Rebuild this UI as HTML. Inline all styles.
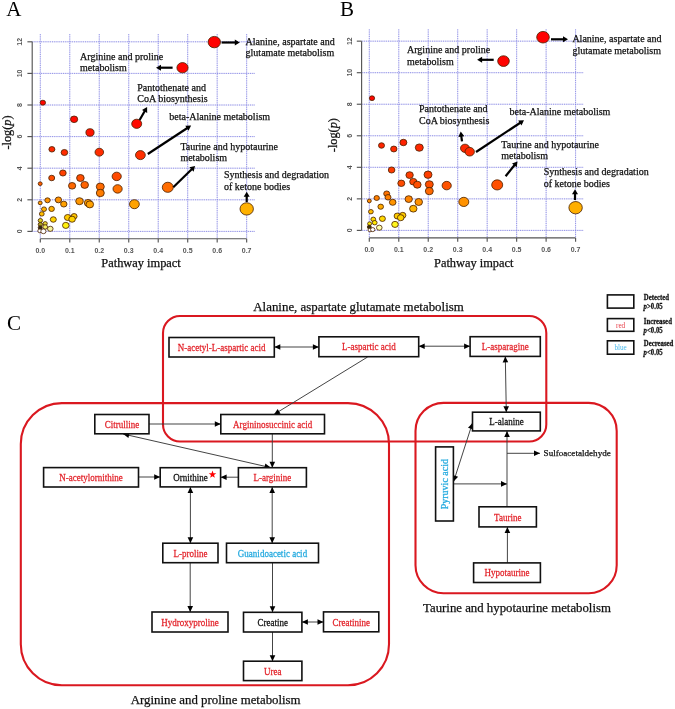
<!DOCTYPE html>
<html><head><meta charset="utf-8"><title>Pathway analysis figure</title>
<style>
html,body{margin:0;padding:0;background:#fff;width:675px;height:709px;overflow:hidden;}
svg{display:block;will-change:transform;font-family:"Liberation Serif",serif;}
</style></head><body>
<svg width="675" height="709" viewBox="0 0 675 709">
<rect width="675" height="709" fill="#fff"/>
<line x1="40.3" y1="34.1" x2="40.3" y2="238.7" stroke="#e4e4f8" stroke-width="1"/>
<line x1="69.78" y1="34.1" x2="69.78" y2="238.7" stroke="#e4e4f8" stroke-width="1"/>
<line x1="99.26" y1="34.1" x2="99.26" y2="238.7" stroke="#e4e4f8" stroke-width="1"/>
<line x1="128.74" y1="34.1" x2="128.74" y2="238.7" stroke="#e4e4f8" stroke-width="1"/>
<line x1="158.22" y1="34.1" x2="158.22" y2="238.7" stroke="#e4e4f8" stroke-width="1"/>
<line x1="187.7" y1="34.1" x2="187.7" y2="238.7" stroke="#e4e4f8" stroke-width="1"/>
<line x1="217.18" y1="34.1" x2="217.18" y2="238.7" stroke="#e4e4f8" stroke-width="1"/>
<line x1="246.66" y1="34.1" x2="246.66" y2="238.7" stroke="#e4e4f8" stroke-width="1"/>
<line x1="32.2" y1="231.4" x2="255" y2="231.4" stroke="#e4e4f8" stroke-width="1"/>
<line x1="32.2" y1="199.8" x2="255" y2="199.8" stroke="#e4e4f8" stroke-width="1"/>
<line x1="32.2" y1="168.2" x2="255" y2="168.2" stroke="#e4e4f8" stroke-width="1"/>
<line x1="32.2" y1="136.6" x2="255" y2="136.6" stroke="#e4e4f8" stroke-width="1"/>
<line x1="32.2" y1="105" x2="255" y2="105" stroke="#e4e4f8" stroke-width="1"/>
<line x1="32.2" y1="73.4" x2="255" y2="73.4" stroke="#e4e4f8" stroke-width="1"/>
<line x1="32.2" y1="41.8" x2="255" y2="41.8" stroke="#e4e4f8" stroke-width="1"/>
<line x1="40.3" y1="34.1" x2="40.3" y2="238.7" stroke="#7c7ce4" stroke-width="1" stroke-dasharray="1.1 1.1" stroke-opacity="0.8"/>
<line x1="69.78" y1="34.1" x2="69.78" y2="238.7" stroke="#7c7ce4" stroke-width="1" stroke-dasharray="1.1 1.1" stroke-opacity="0.8"/>
<line x1="99.26" y1="34.1" x2="99.26" y2="238.7" stroke="#7c7ce4" stroke-width="1" stroke-dasharray="1.1 1.1" stroke-opacity="0.8"/>
<line x1="128.74" y1="34.1" x2="128.74" y2="238.7" stroke="#7c7ce4" stroke-width="1" stroke-dasharray="1.1 1.1" stroke-opacity="0.8"/>
<line x1="158.22" y1="34.1" x2="158.22" y2="238.7" stroke="#7c7ce4" stroke-width="1" stroke-dasharray="1.1 1.1" stroke-opacity="0.8"/>
<line x1="187.7" y1="34.1" x2="187.7" y2="238.7" stroke="#7c7ce4" stroke-width="1" stroke-dasharray="1.1 1.1" stroke-opacity="0.8"/>
<line x1="217.18" y1="34.1" x2="217.18" y2="238.7" stroke="#7c7ce4" stroke-width="1" stroke-dasharray="1.1 1.1" stroke-opacity="0.8"/>
<line x1="246.66" y1="34.1" x2="246.66" y2="238.7" stroke="#7c7ce4" stroke-width="1" stroke-dasharray="1.1 1.1" stroke-opacity="0.8"/>
<line x1="32.2" y1="231.4" x2="255" y2="231.4" stroke="#7c7ce4" stroke-width="1" stroke-dasharray="1.1 1.1" stroke-opacity="0.8"/>
<line x1="32.2" y1="199.8" x2="255" y2="199.8" stroke="#7c7ce4" stroke-width="1" stroke-dasharray="1.1 1.1" stroke-opacity="0.8"/>
<line x1="32.2" y1="168.2" x2="255" y2="168.2" stroke="#7c7ce4" stroke-width="1" stroke-dasharray="1.1 1.1" stroke-opacity="0.8"/>
<line x1="32.2" y1="136.6" x2="255" y2="136.6" stroke="#7c7ce4" stroke-width="1" stroke-dasharray="1.1 1.1" stroke-opacity="0.8"/>
<line x1="32.2" y1="105" x2="255" y2="105" stroke="#7c7ce4" stroke-width="1" stroke-dasharray="1.1 1.1" stroke-opacity="0.8"/>
<line x1="32.2" y1="73.4" x2="255" y2="73.4" stroke="#7c7ce4" stroke-width="1" stroke-dasharray="1.1 1.1" stroke-opacity="0.8"/>
<line x1="32.2" y1="41.8" x2="255" y2="41.8" stroke="#7c7ce4" stroke-width="1" stroke-dasharray="1.1 1.1" stroke-opacity="0.8"/>
<line x1="32.2" y1="231.4" x2="32.2" y2="41.8" stroke="#555" stroke-width="1.15"/>
<line x1="27.4" y1="231.4" x2="32.2" y2="231.4" stroke="#555" stroke-width="1.15"/>
<text x="22.3" y="231.4" transform="rotate(-90 22.3 231.4)" text-anchor="middle" font-family='"Liberation Sans", sans-serif' font-size="7" font-weight="bold" fill="#555">0</text>
<line x1="27.4" y1="199.8" x2="32.2" y2="199.8" stroke="#555" stroke-width="1.15"/>
<text x="22.3" y="199.8" transform="rotate(-90 22.3 199.8)" text-anchor="middle" font-family='"Liberation Sans", sans-serif' font-size="7" font-weight="bold" fill="#555">2</text>
<line x1="27.4" y1="168.2" x2="32.2" y2="168.2" stroke="#555" stroke-width="1.15"/>
<text x="22.3" y="168.2" transform="rotate(-90 22.3 168.2)" text-anchor="middle" font-family='"Liberation Sans", sans-serif' font-size="7" font-weight="bold" fill="#555">4</text>
<line x1="27.4" y1="136.6" x2="32.2" y2="136.6" stroke="#555" stroke-width="1.15"/>
<text x="22.3" y="136.6" transform="rotate(-90 22.3 136.6)" text-anchor="middle" font-family='"Liberation Sans", sans-serif' font-size="7" font-weight="bold" fill="#555">6</text>
<line x1="27.4" y1="105" x2="32.2" y2="105" stroke="#555" stroke-width="1.15"/>
<text x="22.3" y="105" transform="rotate(-90 22.3 105)" text-anchor="middle" font-family='"Liberation Sans", sans-serif' font-size="7" font-weight="bold" fill="#555">8</text>
<line x1="27.4" y1="73.4" x2="32.2" y2="73.4" stroke="#555" stroke-width="1.15"/>
<text x="22.3" y="73.4" transform="rotate(-90 22.3 73.4)" text-anchor="middle" font-family='"Liberation Sans", sans-serif' font-size="7" font-weight="bold" fill="#555">10</text>
<line x1="27.4" y1="41.8" x2="32.2" y2="41.8" stroke="#555" stroke-width="1.15"/>
<text x="22.3" y="41.8" transform="rotate(-90 22.3 41.8)" text-anchor="middle" font-family='"Liberation Sans", sans-serif' font-size="7" font-weight="bold" fill="#555">12</text>
<line x1="40.3" y1="238.7" x2="246.66" y2="238.7" stroke="#555" stroke-width="1.15"/>
<line x1="40.3" y1="238.7" x2="40.3" y2="242.5" stroke="#555" stroke-width="1.15"/>
<text x="40.3" y="253.1" text-anchor="middle" font-family='"Liberation Sans", sans-serif' font-size="7" font-weight="bold" fill="#555">0.0</text>
<line x1="69.78" y1="238.7" x2="69.78" y2="242.5" stroke="#555" stroke-width="1.15"/>
<text x="69.78" y="253.1" text-anchor="middle" font-family='"Liberation Sans", sans-serif' font-size="7" font-weight="bold" fill="#555">0.1</text>
<line x1="99.26" y1="238.7" x2="99.26" y2="242.5" stroke="#555" stroke-width="1.15"/>
<text x="99.26" y="253.1" text-anchor="middle" font-family='"Liberation Sans", sans-serif' font-size="7" font-weight="bold" fill="#555">0.2</text>
<line x1="128.74" y1="238.7" x2="128.74" y2="242.5" stroke="#555" stroke-width="1.15"/>
<text x="128.74" y="253.1" text-anchor="middle" font-family='"Liberation Sans", sans-serif' font-size="7" font-weight="bold" fill="#555">0.3</text>
<line x1="158.22" y1="238.7" x2="158.22" y2="242.5" stroke="#555" stroke-width="1.15"/>
<text x="158.22" y="253.1" text-anchor="middle" font-family='"Liberation Sans", sans-serif' font-size="7" font-weight="bold" fill="#555">0.4</text>
<line x1="187.7" y1="238.7" x2="187.7" y2="242.5" stroke="#555" stroke-width="1.15"/>
<text x="187.7" y="253.1" text-anchor="middle" font-family='"Liberation Sans", sans-serif' font-size="7" font-weight="bold" fill="#555">0.5</text>
<line x1="217.18" y1="238.7" x2="217.18" y2="242.5" stroke="#555" stroke-width="1.15"/>
<text x="217.18" y="253.1" text-anchor="middle" font-family='"Liberation Sans", sans-serif' font-size="7" font-weight="bold" fill="#555">0.6</text>
<line x1="246.66" y1="238.7" x2="246.66" y2="242.5" stroke="#555" stroke-width="1.15"/>
<text x="246.66" y="253.1" text-anchor="middle" font-family='"Liberation Sans", sans-serif' font-size="7" font-weight="bold" fill="#555">0.7</text>
<ellipse cx="214.3" cy="42.1" rx="6.2" ry="5.7" fill="#ff0100" stroke="#4a2200" stroke-width="0.9" stroke-opacity="0.9"/>
<ellipse cx="182.5" cy="67.7" rx="5.6" ry="5.15" fill="#ff0400" stroke="#4a2200" stroke-width="0.9" stroke-opacity="0.9"/>
<ellipse cx="42.85" cy="102.7" rx="2.7" ry="2.48" fill="#ff0600" stroke="#4a2200" stroke-width="0.9" stroke-opacity="0.9"/>
<ellipse cx="74.1" cy="119.3" rx="3.6" ry="3.31" fill="#ff0800" stroke="#4a2200" stroke-width="0.9" stroke-opacity="0.9"/>
<ellipse cx="90" cy="132.5" rx="4.1" ry="3.77" fill="#ff1400" stroke="#4a2200" stroke-width="0.9" stroke-opacity="0.9"/>
<ellipse cx="136.7" cy="123.8" rx="5" ry="4.6" fill="#ff0b00" stroke="#4a2200" stroke-width="0.9" stroke-opacity="0.9"/>
<ellipse cx="51.9" cy="149.3" rx="3" ry="2.76" fill="#ff2800" stroke="#4a2200" stroke-width="0.9" stroke-opacity="0.9"/>
<ellipse cx="64.4" cy="152.5" rx="3.3" ry="3.04" fill="#ff2c00" stroke="#4a2200" stroke-width="0.9" stroke-opacity="0.9"/>
<ellipse cx="99.3" cy="152.2" rx="4.3" ry="3.96" fill="#ff2c00" stroke="#4a2200" stroke-width="0.9" stroke-opacity="0.9"/>
<ellipse cx="140.4" cy="155.1" rx="4.9" ry="4.51" fill="#ff2f00" stroke="#4a2200" stroke-width="0.9" stroke-opacity="0.9"/>
<ellipse cx="62.9" cy="173" rx="3.3" ry="3.04" fill="#ff4000" stroke="#4a2200" stroke-width="0.9" stroke-opacity="0.9"/>
<ellipse cx="51.7" cy="178" rx="3" ry="2.76" fill="#ff4d00" stroke="#4a2200" stroke-width="0.9" stroke-opacity="0.9"/>
<ellipse cx="40.2" cy="183.7" rx="2" ry="1.84" fill="#ff5f00" stroke="#4a2200" stroke-width="0.9" stroke-opacity="0.9"/>
<ellipse cx="80.4" cy="178" rx="3.8" ry="3.5" fill="#ff4d00" stroke="#4a2200" stroke-width="0.9" stroke-opacity="0.9"/>
<ellipse cx="72.1" cy="185.8" rx="3.6" ry="3.31" fill="#ff6700" stroke="#4a2200" stroke-width="0.9" stroke-opacity="0.9"/>
<ellipse cx="84.7" cy="184.9" rx="3.8" ry="3.5" fill="#ff6300" stroke="#4a2200" stroke-width="0.9" stroke-opacity="0.9"/>
<ellipse cx="100.3" cy="186.7" rx="4" ry="3.68" fill="#ff6a00" stroke="#4a2200" stroke-width="0.9" stroke-opacity="0.9"/>
<ellipse cx="100.3" cy="193" rx="4" ry="3.68" fill="#ff7d00" stroke="#4a2200" stroke-width="0.9" stroke-opacity="0.9"/>
<ellipse cx="116.7" cy="176.4" rx="4.6" ry="4.23" fill="#ff4900" stroke="#4a2200" stroke-width="0.9" stroke-opacity="0.9"/>
<ellipse cx="117.6" cy="188.9" rx="4.6" ry="4.23" fill="#ff7100" stroke="#4a2200" stroke-width="0.9" stroke-opacity="0.9"/>
<ellipse cx="167.8" cy="187.3" rx="5.5" ry="5.06" fill="#ff6c00" stroke="#4a2200" stroke-width="0.9" stroke-opacity="0.9"/>
<ellipse cx="47.5" cy="200.3" rx="2.7" ry="2.48" fill="#ff9400" stroke="#4a2200" stroke-width="0.9" stroke-opacity="0.9"/>
<ellipse cx="40.2" cy="202.9" rx="2" ry="1.84" fill="#ff9d00" stroke="#4a2200" stroke-width="0.9" stroke-opacity="0.9"/>
<ellipse cx="58.4" cy="199.9" rx="3.2" ry="2.94" fill="#ff9200" stroke="#4a2200" stroke-width="0.9" stroke-opacity="0.9"/>
<ellipse cx="63.8" cy="204.1" rx="3.2" ry="2.94" fill="#ffa100" stroke="#4a2200" stroke-width="0.9" stroke-opacity="0.9"/>
<ellipse cx="79.5" cy="201.2" rx="3.8" ry="3.5" fill="#ff9700" stroke="#4a2200" stroke-width="0.9" stroke-opacity="0.9"/>
<ellipse cx="88.1" cy="202.9" rx="3.8" ry="3.5" fill="#ff9d00" stroke="#4a2200" stroke-width="0.9" stroke-opacity="0.9"/>
<ellipse cx="89.8" cy="204.4" rx="3.8" ry="3.5" fill="#ffa200" stroke="#4a2200" stroke-width="0.9" stroke-opacity="0.9"/>
<ellipse cx="134.4" cy="204.2" rx="4.9" ry="4.51" fill="#ffa200" stroke="#4a2200" stroke-width="0.9" stroke-opacity="0.9"/>
<ellipse cx="246.7" cy="208.9" rx="6.7" ry="6.16" fill="#ffb100" stroke="#4a2200" stroke-width="0.9" stroke-opacity="0.9"/>
<ellipse cx="44" cy="209.2" rx="2.5" ry="2.3" fill="#ffb200" stroke="#4a2200" stroke-width="0.9" stroke-opacity="0.9"/>
<ellipse cx="51.6" cy="208.9" rx="2.8" ry="2.58" fill="#ffb100" stroke="#4a2200" stroke-width="0.9" stroke-opacity="0.9"/>
<ellipse cx="41.8" cy="213.9" rx="2.4" ry="2.21" fill="#ffbe00" stroke="#4a2200" stroke-width="0.9" stroke-opacity="0.9"/>
<ellipse cx="53.3" cy="219.5" rx="3" ry="2.76" fill="#ffd400" stroke="#4a2200" stroke-width="0.9" stroke-opacity="0.9"/>
<ellipse cx="67.7" cy="217.5" rx="3.3" ry="3.04" fill="#ffcc00" stroke="#4a2200" stroke-width="0.9" stroke-opacity="0.9"/>
<ellipse cx="74.1" cy="216.3" rx="3" ry="2.76" fill="#ffc700" stroke="#4a2200" stroke-width="0.9" stroke-opacity="0.9"/>
<ellipse cx="72.1" cy="219.2" rx="3.3" ry="3.04" fill="#ffd300" stroke="#4a2200" stroke-width="0.9" stroke-opacity="0.9"/>
<ellipse cx="65.8" cy="225.4" rx="3.3" ry="3.04" fill="#fff10d" stroke="#4a2200" stroke-width="0.9" stroke-opacity="0.9"/>
<ellipse cx="40.4" cy="220.5" rx="2.2" ry="2.02" fill="#d8d020" stroke="#4a2200" stroke-width="0.9" stroke-opacity="0.9"/>
<ellipse cx="45.2" cy="223.5" rx="2.1" ry="1.93" fill="#e0d030" stroke="#4a2200" stroke-width="0.9" stroke-opacity="0.9"/>
<ellipse cx="45.2" cy="227" rx="2.4" ry="2.21" fill="#f4f060" stroke="#4a2200" stroke-width="0.9" stroke-opacity="0.9"/>
<ellipse cx="50.3" cy="228.8" rx="2.8" ry="2.58" fill="#f6f49a" stroke="#4a2200" stroke-width="0.9" stroke-opacity="0.9"/>
<ellipse cx="40.4" cy="224.4" rx="2.2" ry="2.02" fill="#a8a020" stroke="#4a2200" stroke-width="0.9" stroke-opacity="0.9"/>
<ellipse cx="40.2" cy="227.7" rx="2" ry="1.84" fill="#282818" stroke="#4a2200" stroke-width="0.9" stroke-opacity="0.9"/>
<ellipse cx="39.9" cy="230.9" rx="2.1" ry="1.93" fill="#ffffff" stroke="#4a2200" stroke-width="0.9" stroke-opacity="0.9"/>
<ellipse cx="43.4" cy="231.3" rx="2.6" ry="2.39" fill="#ffffff" stroke="#4a2200" stroke-width="0.9" stroke-opacity="0.9"/>
<line x1="221.6" y1="42.5" x2="235.8" y2="42.5" stroke="#000" stroke-width="2.2"/><polygon points="239.8,42.5 234.8,45.5 234.8,39.5" fill="#000"/>
<line x1="172.6" y1="67.7" x2="160" y2="67.7" stroke="#000" stroke-width="2.2"/><polygon points="156,67.7 161,64.7 161,70.7" fill="#000"/>
<line x1="139.6" y1="120" x2="145.09" y2="110.56" stroke="#000" stroke-width="2.2"/><polygon points="147.1,107.1 147.18,112.93 141.99,109.91" fill="#000"/>
<line x1="147.8" y1="154" x2="187.76" y2="127.79" stroke="#000" stroke-width="2.2"/><polygon points="191.1,125.6 188.56,130.85 185.27,125.83" fill="#000"/>
<line x1="173.3" y1="187.3" x2="192.24" y2="168.8" stroke="#000" stroke-width="2.2"/><polygon points="195.1,166 193.62,171.64 189.43,167.35" fill="#000"/>
<line x1="246.7" y1="202" x2="246.7" y2="195.8" stroke="#000" stroke-width="2.2"/><polygon points="246.7,191.8 249.7,196.8 243.7,196.8" fill="#000"/>
<text x="80.1" y="59.8" font-family='"Liberation Serif", serif' font-size="10" fill="#111" stroke="#111" stroke-width="0.25">Arginine and proline</text>
<text x="80.1" y="71.4" font-family='"Liberation Serif", serif' font-size="10" fill="#111" stroke="#111" stroke-width="0.25">metabolism</text>
<text x="245.6" y="44.6" font-family='"Liberation Serif", serif' font-size="10" fill="#111" stroke="#111" stroke-width="0.25">Alanine, aspartate and</text>
<text x="245.6" y="56.1" font-family='"Liberation Serif", serif' font-size="10" fill="#111" stroke="#111" stroke-width="0.25">glutamate metabolism</text>
<text x="137.3" y="91.1" font-family='"Liberation Serif", serif' font-size="10" fill="#111" stroke="#111" stroke-width="0.25">Pantothenate and</text>
<text x="137.3" y="102.2" font-family='"Liberation Serif", serif' font-size="10" fill="#111" stroke="#111" stroke-width="0.25">CoA biosynthesis</text>
<text x="169.3" y="120" font-family='"Liberation Serif", serif' font-size="10" fill="#111" stroke="#111" stroke-width="0.25">beta-Alanine metabolism</text>
<text x="180.4" y="149.6" font-family='"Liberation Serif", serif' font-size="10" fill="#111" stroke="#111" stroke-width="0.25">Taurine and hypotaurine</text>
<text x="180.4" y="161.1" font-family='"Liberation Serif", serif' font-size="10" fill="#111" stroke="#111" stroke-width="0.25">metabolism</text>
<text x="224" y="178.4" font-family='"Liberation Serif", serif' font-size="10" fill="#111" stroke="#111" stroke-width="0.25">Synthesis and degradation</text>
<text x="224" y="189.6" font-family='"Liberation Serif", serif' font-size="10" fill="#111" stroke="#111" stroke-width="0.25">of ketone bodies</text>
<text class="nb" x="6.2" y="15.6" font-family='"Liberation Serif", serif' font-size="21" fill="#000">A</text>
<text x="11" y="132.5" transform="rotate(-90 11 132.5)" text-anchor="middle" font-family='"Liberation Serif", serif' font-size="12.3" fill="#111" stroke="#111" stroke-width="0.25">-log(<tspan font-style="italic">p</tspan>)</text>
<text x="101.3" y="266.7" font-family='"Liberation Serif", serif' font-size="12.4" fill="#111" stroke="#111" stroke-width="0.25">Pathway impact</text>
<line x1="369.3" y1="29.3" x2="369.3" y2="237.9" stroke="#e4e4f8" stroke-width="1"/>
<line x1="398.77" y1="29.3" x2="398.77" y2="237.9" stroke="#e4e4f8" stroke-width="1"/>
<line x1="428.24" y1="29.3" x2="428.24" y2="237.9" stroke="#e4e4f8" stroke-width="1"/>
<line x1="457.71" y1="29.3" x2="457.71" y2="237.9" stroke="#e4e4f8" stroke-width="1"/>
<line x1="487.18" y1="29.3" x2="487.18" y2="237.9" stroke="#e4e4f8" stroke-width="1"/>
<line x1="516.65" y1="29.3" x2="516.65" y2="237.9" stroke="#e4e4f8" stroke-width="1"/>
<line x1="546.12" y1="29.3" x2="546.12" y2="237.9" stroke="#e4e4f8" stroke-width="1"/>
<line x1="575.59" y1="29.3" x2="575.59" y2="237.9" stroke="#e4e4f8" stroke-width="1"/>
<line x1="361.6" y1="230.4" x2="583.8" y2="230.4" stroke="#e4e4f8" stroke-width="1"/>
<line x1="361.6" y1="198.86" x2="583.8" y2="198.86" stroke="#e4e4f8" stroke-width="1"/>
<line x1="361.6" y1="167.32" x2="583.8" y2="167.32" stroke="#e4e4f8" stroke-width="1"/>
<line x1="361.6" y1="135.78" x2="583.8" y2="135.78" stroke="#e4e4f8" stroke-width="1"/>
<line x1="361.6" y1="104.24" x2="583.8" y2="104.24" stroke="#e4e4f8" stroke-width="1"/>
<line x1="361.6" y1="72.7" x2="583.8" y2="72.7" stroke="#e4e4f8" stroke-width="1"/>
<line x1="361.6" y1="41.16" x2="583.8" y2="41.16" stroke="#e4e4f8" stroke-width="1"/>
<line x1="369.3" y1="29.3" x2="369.3" y2="237.9" stroke="#7c7ce4" stroke-width="1" stroke-dasharray="1.1 1.1" stroke-opacity="0.8"/>
<line x1="398.77" y1="29.3" x2="398.77" y2="237.9" stroke="#7c7ce4" stroke-width="1" stroke-dasharray="1.1 1.1" stroke-opacity="0.8"/>
<line x1="428.24" y1="29.3" x2="428.24" y2="237.9" stroke="#7c7ce4" stroke-width="1" stroke-dasharray="1.1 1.1" stroke-opacity="0.8"/>
<line x1="457.71" y1="29.3" x2="457.71" y2="237.9" stroke="#7c7ce4" stroke-width="1" stroke-dasharray="1.1 1.1" stroke-opacity="0.8"/>
<line x1="487.18" y1="29.3" x2="487.18" y2="237.9" stroke="#7c7ce4" stroke-width="1" stroke-dasharray="1.1 1.1" stroke-opacity="0.8"/>
<line x1="516.65" y1="29.3" x2="516.65" y2="237.9" stroke="#7c7ce4" stroke-width="1" stroke-dasharray="1.1 1.1" stroke-opacity="0.8"/>
<line x1="546.12" y1="29.3" x2="546.12" y2="237.9" stroke="#7c7ce4" stroke-width="1" stroke-dasharray="1.1 1.1" stroke-opacity="0.8"/>
<line x1="575.59" y1="29.3" x2="575.59" y2="237.9" stroke="#7c7ce4" stroke-width="1" stroke-dasharray="1.1 1.1" stroke-opacity="0.8"/>
<line x1="361.6" y1="230.4" x2="583.8" y2="230.4" stroke="#7c7ce4" stroke-width="1" stroke-dasharray="1.1 1.1" stroke-opacity="0.8"/>
<line x1="361.6" y1="198.86" x2="583.8" y2="198.86" stroke="#7c7ce4" stroke-width="1" stroke-dasharray="1.1 1.1" stroke-opacity="0.8"/>
<line x1="361.6" y1="167.32" x2="583.8" y2="167.32" stroke="#7c7ce4" stroke-width="1" stroke-dasharray="1.1 1.1" stroke-opacity="0.8"/>
<line x1="361.6" y1="135.78" x2="583.8" y2="135.78" stroke="#7c7ce4" stroke-width="1" stroke-dasharray="1.1 1.1" stroke-opacity="0.8"/>
<line x1="361.6" y1="104.24" x2="583.8" y2="104.24" stroke="#7c7ce4" stroke-width="1" stroke-dasharray="1.1 1.1" stroke-opacity="0.8"/>
<line x1="361.6" y1="72.7" x2="583.8" y2="72.7" stroke="#7c7ce4" stroke-width="1" stroke-dasharray="1.1 1.1" stroke-opacity="0.8"/>
<line x1="361.6" y1="41.16" x2="583.8" y2="41.16" stroke="#7c7ce4" stroke-width="1" stroke-dasharray="1.1 1.1" stroke-opacity="0.8"/>
<line x1="361.6" y1="230.4" x2="361.6" y2="41.16" stroke="#555" stroke-width="1.15"/>
<line x1="356.8" y1="230.4" x2="361.6" y2="230.4" stroke="#555" stroke-width="1.15"/>
<text x="351.7" y="230.4" transform="rotate(-90 351.7 230.4)" text-anchor="middle" font-family='"Liberation Sans", sans-serif' font-size="7" font-weight="bold" fill="#555">0</text>
<line x1="356.8" y1="198.86" x2="361.6" y2="198.86" stroke="#555" stroke-width="1.15"/>
<text x="351.7" y="198.86" transform="rotate(-90 351.7 198.86)" text-anchor="middle" font-family='"Liberation Sans", sans-serif' font-size="7" font-weight="bold" fill="#555">2</text>
<line x1="356.8" y1="167.32" x2="361.6" y2="167.32" stroke="#555" stroke-width="1.15"/>
<text x="351.7" y="167.32" transform="rotate(-90 351.7 167.32)" text-anchor="middle" font-family='"Liberation Sans", sans-serif' font-size="7" font-weight="bold" fill="#555">4</text>
<line x1="356.8" y1="135.78" x2="361.6" y2="135.78" stroke="#555" stroke-width="1.15"/>
<text x="351.7" y="135.78" transform="rotate(-90 351.7 135.78)" text-anchor="middle" font-family='"Liberation Sans", sans-serif' font-size="7" font-weight="bold" fill="#555">6</text>
<line x1="356.8" y1="104.24" x2="361.6" y2="104.24" stroke="#555" stroke-width="1.15"/>
<text x="351.7" y="104.24" transform="rotate(-90 351.7 104.24)" text-anchor="middle" font-family='"Liberation Sans", sans-serif' font-size="7" font-weight="bold" fill="#555">8</text>
<line x1="356.8" y1="72.7" x2="361.6" y2="72.7" stroke="#555" stroke-width="1.15"/>
<text x="351.7" y="72.7" transform="rotate(-90 351.7 72.7)" text-anchor="middle" font-family='"Liberation Sans", sans-serif' font-size="7" font-weight="bold" fill="#555">10</text>
<line x1="356.8" y1="41.16" x2="361.6" y2="41.16" stroke="#555" stroke-width="1.15"/>
<text x="351.7" y="41.16" transform="rotate(-90 351.7 41.16)" text-anchor="middle" font-family='"Liberation Sans", sans-serif' font-size="7" font-weight="bold" fill="#555">12</text>
<line x1="369.3" y1="237.9" x2="575.59" y2="237.9" stroke="#555" stroke-width="1.15"/>
<line x1="369.3" y1="237.9" x2="369.3" y2="241.7" stroke="#555" stroke-width="1.15"/>
<text x="369.3" y="252.3" text-anchor="middle" font-family='"Liberation Sans", sans-serif' font-size="7" font-weight="bold" fill="#555">0.0</text>
<line x1="398.77" y1="237.9" x2="398.77" y2="241.7" stroke="#555" stroke-width="1.15"/>
<text x="398.77" y="252.3" text-anchor="middle" font-family='"Liberation Sans", sans-serif' font-size="7" font-weight="bold" fill="#555">0.1</text>
<line x1="428.24" y1="237.9" x2="428.24" y2="241.7" stroke="#555" stroke-width="1.15"/>
<text x="428.24" y="252.3" text-anchor="middle" font-family='"Liberation Sans", sans-serif' font-size="7" font-weight="bold" fill="#555">0.2</text>
<line x1="457.71" y1="237.9" x2="457.71" y2="241.7" stroke="#555" stroke-width="1.15"/>
<text x="457.71" y="252.3" text-anchor="middle" font-family='"Liberation Sans", sans-serif' font-size="7" font-weight="bold" fill="#555">0.3</text>
<line x1="487.18" y1="237.9" x2="487.18" y2="241.7" stroke="#555" stroke-width="1.15"/>
<text x="487.18" y="252.3" text-anchor="middle" font-family='"Liberation Sans", sans-serif' font-size="7" font-weight="bold" fill="#555">0.4</text>
<line x1="516.65" y1="237.9" x2="516.65" y2="241.7" stroke="#555" stroke-width="1.15"/>
<text x="516.65" y="252.3" text-anchor="middle" font-family='"Liberation Sans", sans-serif' font-size="7" font-weight="bold" fill="#555">0.5</text>
<line x1="546.12" y1="237.9" x2="546.12" y2="241.7" stroke="#555" stroke-width="1.15"/>
<text x="546.12" y="252.3" text-anchor="middle" font-family='"Liberation Sans", sans-serif' font-size="7" font-weight="bold" fill="#555">0.6</text>
<line x1="575.59" y1="237.9" x2="575.59" y2="241.7" stroke="#555" stroke-width="1.15"/>
<text x="575.59" y="252.3" text-anchor="middle" font-family='"Liberation Sans", sans-serif' font-size="7" font-weight="bold" fill="#555">0.7</text>
<ellipse cx="543" cy="37.2" rx="6.3" ry="5.8" fill="#ff0100" stroke="#4a2200" stroke-width="0.9" stroke-opacity="0.9"/>
<ellipse cx="503.5" cy="61.1" rx="5.8" ry="5.34" fill="#ff0300" stroke="#4a2200" stroke-width="0.9" stroke-opacity="0.9"/>
<ellipse cx="372" cy="98.2" rx="2.6" ry="2.39" fill="#ff0600" stroke="#4a2200" stroke-width="0.9" stroke-opacity="0.9"/>
<ellipse cx="381.5" cy="145.5" rx="3" ry="2.76" fill="#ff2400" stroke="#4a2200" stroke-width="0.9" stroke-opacity="0.9"/>
<ellipse cx="393.8" cy="149" rx="3.2" ry="2.94" fill="#ff2900" stroke="#4a2200" stroke-width="0.9" stroke-opacity="0.9"/>
<ellipse cx="403.4" cy="142.5" rx="3.5" ry="3.22" fill="#ff2100" stroke="#4a2200" stroke-width="0.9" stroke-opacity="0.9"/>
<ellipse cx="419.3" cy="147.6" rx="4" ry="3.68" fill="#ff2700" stroke="#4a2200" stroke-width="0.9" stroke-opacity="0.9"/>
<ellipse cx="465" cy="148.3" rx="4.5" ry="4.14" fill="#ff2800" stroke="#4a2200" stroke-width="0.9" stroke-opacity="0.9"/>
<ellipse cx="469.7" cy="151.7" rx="4.7" ry="4.32" fill="#ff2c00" stroke="#4a2200" stroke-width="0.9" stroke-opacity="0.9"/>
<ellipse cx="391.6" cy="170" rx="3.3" ry="3.04" fill="#ff3a00" stroke="#4a2200" stroke-width="0.9" stroke-opacity="0.9"/>
<ellipse cx="409.6" cy="175.1" rx="3.7" ry="3.4" fill="#ff3d00" stroke="#4a2200" stroke-width="0.9" stroke-opacity="0.9"/>
<ellipse cx="428" cy="174.7" rx="4" ry="3.68" fill="#ff3d00" stroke="#4a2200" stroke-width="0.9" stroke-opacity="0.9"/>
<ellipse cx="401.3" cy="183.3" rx="3.5" ry="3.22" fill="#ff4b00" stroke="#4a2200" stroke-width="0.9" stroke-opacity="0.9"/>
<ellipse cx="413.3" cy="181.7" rx="3.6" ry="3.31" fill="#ff4600" stroke="#4a2200" stroke-width="0.9" stroke-opacity="0.9"/>
<ellipse cx="417.3" cy="184.7" rx="3.8" ry="3.5" fill="#ff4f00" stroke="#4a2200" stroke-width="0.9" stroke-opacity="0.9"/>
<ellipse cx="429.3" cy="184.4" rx="4" ry="3.68" fill="#ff4e00" stroke="#4a2200" stroke-width="0.9" stroke-opacity="0.9"/>
<ellipse cx="429.3" cy="191.1" rx="4" ry="3.68" fill="#ff6800" stroke="#4a2200" stroke-width="0.9" stroke-opacity="0.9"/>
<ellipse cx="446.7" cy="185.6" rx="4.6" ry="4.23" fill="#ff5300" stroke="#4a2200" stroke-width="0.9" stroke-opacity="0.9"/>
<ellipse cx="497.2" cy="184.9" rx="5.5" ry="5.06" fill="#ff5000" stroke="#4a2200" stroke-width="0.9" stroke-opacity="0.9"/>
<ellipse cx="386.7" cy="193.7" rx="3" ry="2.76" fill="#ff7200" stroke="#4a2200" stroke-width="0.9" stroke-opacity="0.9"/>
<ellipse cx="388" cy="197.3" rx="3" ry="2.76" fill="#ff7e00" stroke="#4a2200" stroke-width="0.9" stroke-opacity="0.9"/>
<ellipse cx="376.7" cy="198" rx="2.7" ry="2.48" fill="#ff8000" stroke="#4a2200" stroke-width="0.9" stroke-opacity="0.9"/>
<ellipse cx="369.3" cy="200.9" rx="2" ry="1.84" fill="#ff8c00" stroke="#4a2200" stroke-width="0.9" stroke-opacity="0.9"/>
<ellipse cx="392.7" cy="202.3" rx="3.3" ry="3.04" fill="#ff9400" stroke="#4a2200" stroke-width="0.9" stroke-opacity="0.9"/>
<ellipse cx="408.7" cy="199.1" rx="3.7" ry="3.4" fill="#ff8400" stroke="#4a2200" stroke-width="0.9" stroke-opacity="0.9"/>
<ellipse cx="418.7" cy="202" rx="3.8" ry="3.5" fill="#ff9200" stroke="#4a2200" stroke-width="0.9" stroke-opacity="0.9"/>
<ellipse cx="413.3" cy="208.7" rx="3.7" ry="3.4" fill="#ffb300" stroke="#4a2200" stroke-width="0.9" stroke-opacity="0.9"/>
<ellipse cx="463.8" cy="201.9" rx="5" ry="4.6" fill="#ff9200" stroke="#4a2200" stroke-width="0.9" stroke-opacity="0.9"/>
<ellipse cx="575.6" cy="207.7" rx="6.7" ry="6.16" fill="#ffaf00" stroke="#4a2200" stroke-width="0.9" stroke-opacity="0.9"/>
<ellipse cx="380.7" cy="206.7" rx="2.8" ry="2.58" fill="#ffaa00" stroke="#4a2200" stroke-width="0.9" stroke-opacity="0.9"/>
<ellipse cx="370.9" cy="211.7" rx="2.4" ry="2.21" fill="#ffbc00" stroke="#4a2200" stroke-width="0.9" stroke-opacity="0.9"/>
<ellipse cx="382.4" cy="218.7" rx="3" ry="2.76" fill="#ffd900" stroke="#4a2200" stroke-width="0.9" stroke-opacity="0.9"/>
<ellipse cx="397.3" cy="216" rx="3.2" ry="2.94" fill="#ffce00" stroke="#4a2200" stroke-width="0.9" stroke-opacity="0.9"/>
<ellipse cx="402.7" cy="215.3" rx="3.2" ry="2.94" fill="#ffcc00" stroke="#4a2200" stroke-width="0.9" stroke-opacity="0.9"/>
<ellipse cx="400.7" cy="217.7" rx="3.3" ry="3.04" fill="#ffd500" stroke="#4a2200" stroke-width="0.9" stroke-opacity="0.9"/>
<ellipse cx="395" cy="224.4" rx="3.3" ry="3.04" fill="#fff620" stroke="#4a2200" stroke-width="0.9" stroke-opacity="0.9"/>
<ellipse cx="373.3" cy="219.3" rx="2.4" ry="2.21" fill="#ffdc00" stroke="#4a2200" stroke-width="0.9" stroke-opacity="0.9"/>
<ellipse cx="374.7" cy="222.7" rx="2.4" ry="2.21" fill="#ffea00" stroke="#4a2200" stroke-width="0.9" stroke-opacity="0.9"/>
<ellipse cx="369.6" cy="223.7" rx="2" ry="1.84" fill="#fff006" stroke="#4a2200" stroke-width="0.9" stroke-opacity="0.9"/>
<ellipse cx="379.3" cy="227.7" rx="2.8" ry="2.58" fill="#ffffab" stroke="#4a2200" stroke-width="0.9" stroke-opacity="0.9"/>
<ellipse cx="369.3" cy="227" rx="2" ry="1.84" fill="#303010" stroke="#4a2200" stroke-width="0.9" stroke-opacity="0.9"/>
<ellipse cx="370" cy="230" rx="2" ry="1.84" fill="#ffffff" stroke="#4a2200" stroke-width="0.9" stroke-opacity="0.9"/>
<ellipse cx="372.7" cy="229.6" rx="2.2" ry="2.02" fill="#ffffff" stroke="#4a2200" stroke-width="0.9" stroke-opacity="0.9"/>
<line x1="551" y1="39.3" x2="564" y2="39.3" stroke="#000" stroke-width="2.2"/><polygon points="568,39.3 563,42.3 563,36.3" fill="#000"/>
<line x1="493.7" y1="59.8" x2="481.1" y2="59.8" stroke="#000" stroke-width="2.2"/><polygon points="477.1,59.8 482.1,56.8 482.1,62.8" fill="#000"/>
<line x1="462" y1="141.4" x2="461.23" y2="135.57" stroke="#000" stroke-width="2.2"/><polygon points="460.7,131.6 464.33,136.16 458.38,136.95" fill="#000"/>
<line x1="476" y1="152" x2="520.66" y2="122.5" stroke="#000" stroke-width="2.2"/><polygon points="524,120.3 521.48,125.56 518.17,120.55" fill="#000"/>
<line x1="505.6" y1="176.2" x2="514.99" y2="164.52" stroke="#000" stroke-width="2.2"/><polygon points="517.5,161.4 516.7,167.18 512.03,163.42" fill="#000"/>
<line x1="575" y1="200" x2="575" y2="193.2" stroke="#000" stroke-width="2.2"/><polygon points="575,189.2 578,194.2 572,194.2" fill="#000"/>
<text x="407" y="53.2" font-family='"Liberation Serif", serif' font-size="10" fill="#111" stroke="#111" stroke-width="0.25">Arginine and proline</text>
<text x="407" y="64.6" font-family='"Liberation Serif", serif' font-size="10" fill="#111" stroke="#111" stroke-width="0.25">metabolism</text>
<text x="572.4" y="42.4" font-family='"Liberation Serif", serif' font-size="10" fill="#111" stroke="#111" stroke-width="0.25">Alanine, aspartate and</text>
<text x="572.4" y="53.9" font-family='"Liberation Serif", serif' font-size="10" fill="#111" stroke="#111" stroke-width="0.25">glutamate metabolism</text>
<text x="419" y="112.3" font-family='"Liberation Serif", serif' font-size="10" fill="#111" stroke="#111" stroke-width="0.25">Pantothenate and</text>
<text x="419" y="124" font-family='"Liberation Serif", serif' font-size="10" fill="#111" stroke="#111" stroke-width="0.25">CoA biosynthesis</text>
<text x="509.6" y="115.3" font-family='"Liberation Serif", serif' font-size="10" fill="#111" stroke="#111" stroke-width="0.25">beta-Alanine metabolism</text>
<text x="501.3" y="147.9" font-family='"Liberation Serif", serif' font-size="10" fill="#111" stroke="#111" stroke-width="0.25">Taurine and hypotaurine</text>
<text x="501.3" y="159.3" font-family='"Liberation Serif", serif' font-size="10" fill="#111" stroke="#111" stroke-width="0.25">metabolism</text>
<text x="543.7" y="174.9" font-family='"Liberation Serif", serif' font-size="10" fill="#111" stroke="#111" stroke-width="0.25">Synthesis and degradation</text>
<text x="543.7" y="187.4" font-family='"Liberation Serif", serif' font-size="10" fill="#111" stroke="#111" stroke-width="0.25">of ketone bodies</text>
<text class="nb" x="340" y="16" font-family='"Liberation Serif", serif' font-size="21" fill="#000">B</text>
<text x="337.4" y="135.1" transform="rotate(-90 337.4 135.1)" text-anchor="middle" font-family='"Liberation Serif", serif' font-size="12.3" fill="#111" stroke="#111" stroke-width="0.25">-log(<tspan font-style="italic">p</tspan>)</text>
<text x="434" y="266.7" font-family='"Liberation Serif", serif' font-size="12.4" fill="#111" stroke="#111" stroke-width="0.25">Pathway impact</text>
<rect x="163" y="316" width="383.3" height="125.5" rx="17" fill="none" stroke="#da1820" stroke-width="2.1"/>
<rect x="20.8" y="403.1" width="368.2" height="282.2" rx="41" fill="none" stroke="#da1820" stroke-width="2.1"/>
<rect x="415.5" y="402.9" width="201.2" height="190.3" rx="28" fill="none" stroke="#da1820" stroke-width="2.1"/>
<text x="253.3" y="311.4" font-family='"Liberation Serif", serif' font-size="12.9" fill="#111" stroke="#111" stroke-width="0.25">Alanine, aspartate glutamate metabolism</text>
<text x="423.1" y="611.6" font-family='"Liberation Serif", serif' font-size="12.8" fill="#111" stroke="#111" stroke-width="0.25">Taurine and hypotaurine metabolism</text>
<text x="130.7" y="704.4" font-family='"Liberation Serif", serif' font-size="12.85" fill="#111" stroke="#111" stroke-width="0.25">Arginine and proline metabolism</text>
<text class="nb" x="7.1" y="330.4" font-family='"Liberation Serif", serif' font-size="21" fill="#000">C</text>
<line x1="274.3" y1="347" x2="318.9" y2="347" stroke="#3a3a3a" stroke-width="0.95"/>
<polygon points="318.9,347 312.9,349.8 312.9,344.2" fill="#000"/>
<polygon points="274.3,347 280.3,344.2 280.3,349.8" fill="#000"/>
<line x1="418.7" y1="346.2" x2="470.1" y2="346.2" stroke="#3a3a3a" stroke-width="0.95"/>
<polygon points="470.1,346.2 464.1,349 464.1,343.4" fill="#000"/>
<polygon points="418.7,346.2 424.7,343.4 424.7,349" fill="#000"/>
<line x1="367.6" y1="357" x2="274" y2="414.4" stroke="#3a3a3a" stroke-width="0.95"/>
<polygon points="274,414.4 277.65,408.88 280.58,413.65" fill="#000"/>
<line x1="149" y1="424" x2="220.8" y2="424" stroke="#3a3a3a" stroke-width="0.95"/>
<polygon points="220.8,424 214.8,426.8 214.8,421.2" fill="#000"/>
<line x1="123.2" y1="434" x2="270.6" y2="467.6" stroke="#3a3a3a" stroke-width="0.95"/>
<polygon points="270.6,467.6 264.13,469 265.37,463.54" fill="#000"/>
<polygon points="123.2,434 129.67,432.6 128.43,438.06" fill="#000"/>
<line x1="272.3" y1="433.8" x2="272.3" y2="467.7" stroke="#3a3a3a" stroke-width="0.95"/>
<polygon points="272.3,467.7 269.5,461.7 275.1,461.7" fill="#000"/>
<line x1="138.5" y1="477" x2="160.2" y2="477" stroke="#3a3a3a" stroke-width="0.95"/>
<polygon points="160.2,477 154.2,479.8 154.2,474.2" fill="#000"/>
<line x1="238.4" y1="477.2" x2="220.6" y2="477.2" stroke="#3a3a3a" stroke-width="0.95"/>
<polygon points="220.6,477.2 226.6,474.4 226.6,480" fill="#000"/>
<line x1="190.4" y1="486.9" x2="190.4" y2="543.2" stroke="#3a3a3a" stroke-width="0.95"/>
<polygon points="190.4,543.2 187.6,537.2 193.2,537.2" fill="#000"/>
<polygon points="190.4,486.9 193.2,492.9 187.6,492.9" fill="#000"/>
<line x1="272.2" y1="486.9" x2="272.2" y2="543.2" stroke="#3a3a3a" stroke-width="0.95"/>
<polygon points="272.2,543.2 269.4,537.2 275,537.2" fill="#000"/>
<polygon points="272.2,486.9 275,492.9 269.4,492.9" fill="#000"/>
<line x1="190.2" y1="562.7" x2="190.2" y2="612" stroke="#3a3a3a" stroke-width="0.95"/>
<polygon points="190.2,612 187.4,606 193,606" fill="#000"/>
<line x1="272.5" y1="562.7" x2="272.5" y2="612.3" stroke="#3a3a3a" stroke-width="0.95"/>
<polygon points="272.5,612.3 269.7,606.3 275.3,606.3" fill="#000"/>
<line x1="301.9" y1="622" x2="323.5" y2="622" stroke="#3a3a3a" stroke-width="0.95"/>
<polygon points="323.5,622 317.5,624.8 317.5,619.2" fill="#000"/>
<polygon points="301.9,622 307.9,619.2 307.9,624.8" fill="#000"/>
<line x1="272.5" y1="632" x2="272.5" y2="661.2" stroke="#3a3a3a" stroke-width="0.95"/>
<polygon points="272.5,661.2 269.7,655.2 275.3,655.2" fill="#000"/>
<line x1="505.3" y1="356.4" x2="506.3" y2="412.2" stroke="#3a3a3a" stroke-width="0.95"/>
<polygon points="506.3,412.2 503.39,406.25 508.99,406.15" fill="#000"/>
<polygon points="505.3,356.4 508.21,362.35 502.61,362.45" fill="#000"/>
<line x1="453.6" y1="481.6" x2="472.5" y2="422.9" stroke="#3a3a3a" stroke-width="0.95"/>
<polygon points="472.5,422.9 473.33,429.47 468,427.75" fill="#000"/>
<polygon points="453.6,481.6 452.77,475.03 458.1,476.75" fill="#000"/>
<line x1="453.4" y1="483.9" x2="507" y2="483.9" stroke="#3a3a3a" stroke-width="0.95"/>
<polygon points="507,483.9 501,486.7 501,481.1" fill="#000"/>
<line x1="507" y1="506.8" x2="507" y2="430.9" stroke="#3a3a3a" stroke-width="0.95"/>
<polygon points="507,430.9 509.8,436.9 504.2,436.9" fill="#000"/>
<line x1="507" y1="453.3" x2="540" y2="453.3" stroke="#3a3a3a" stroke-width="0.95"/>
<polygon points="540,453.3 534,456.1 534,450.5" fill="#000"/>
<line x1="507.4" y1="562.9" x2="507.4" y2="526.9" stroke="#3a3a3a" stroke-width="0.95"/>
<polygon points="507.4,526.9 510.2,532.9 504.6,532.9" fill="#000"/>
<rect x="169" y="337.5" width="105.3" height="19.5" fill="#fff" stroke="#111" stroke-width="1.6"/>
<text transform="translate(221.65 350.95) scale(0.92 1)" text-anchor="middle" font-family='"Liberation Serif", serif' font-size="9.8" fill="#e3242b" stroke="#e3242b" stroke-width="0.25">N-acetyl-L-aspartic acid</text>
<rect x="318.9" y="336.8" width="99.8" height="19.9" fill="#fff" stroke="#111" stroke-width="1.6"/>
<text transform="translate(368.8 350.45) scale(0.92 1)" text-anchor="middle" font-family='"Liberation Serif", serif' font-size="9.8" fill="#e3242b" stroke="#e3242b" stroke-width="0.25">L-aspartic acid</text>
<rect x="470.1" y="336.7" width="70.2" height="19.7" fill="#fff" stroke="#111" stroke-width="1.6"/>
<text transform="translate(505.2 350.25) scale(0.92 1)" text-anchor="middle" font-family='"Liberation Serif", serif' font-size="9.8" fill="#e3242b" stroke="#e3242b" stroke-width="0.25">L-asparagine</text>
<rect x="94.8" y="414.5" width="54.2" height="19.3" fill="#fff" stroke="#111" stroke-width="1.6"/>
<text transform="translate(121.9 427.85) scale(0.92 1)" text-anchor="middle" font-family='"Liberation Serif", serif' font-size="9.8" fill="#e3242b" stroke="#e3242b" stroke-width="0.25">Citrulline</text>
<rect x="220.8" y="414.5" width="103.7" height="19.3" fill="#fff" stroke="#111" stroke-width="1.6"/>
<text transform="translate(272.65 427.85) scale(0.92 1)" text-anchor="middle" font-family='"Liberation Serif", serif' font-size="9.8" fill="#e3242b" stroke="#e3242b" stroke-width="0.25">Argininosuccinic acid</text>
<rect x="472.5" y="412.2" width="67.8" height="18.7" fill="#fff" stroke="#111" stroke-width="1.6"/>
<text transform="translate(506.4 425.25) scale(0.92 1)" text-anchor="middle" font-family='"Liberation Serif", serif' font-size="9.8" fill="#111" stroke="#111" stroke-width="0.25">L-alanine</text>
<rect x="43.6" y="467.6" width="94.9" height="19.4" fill="#fff" stroke="#111" stroke-width="1.6"/>
<text transform="translate(91.05 481) scale(0.92 1)" text-anchor="middle" font-family='"Liberation Serif", serif' font-size="9.8" fill="#e3242b" stroke="#e3242b" stroke-width="0.25">N-acetylornithine</text>
<rect x="160.2" y="467.7" width="60.4" height="19.2" fill="#fff" stroke="#111" stroke-width="1.6"/>
<text transform="translate(190.4 481) scale(0.92 1)" text-anchor="middle" font-family='"Liberation Serif", serif' font-size="9.8" fill="#111" stroke="#111" stroke-width="0.25">Ornithine</text>
<rect x="238.4" y="467.7" width="68" height="19.2" fill="#fff" stroke="#111" stroke-width="1.6"/>
<text transform="translate(272.4 481) scale(0.92 1)" text-anchor="middle" font-family='"Liberation Serif", serif' font-size="9.8" fill="#e3242b" stroke="#e3242b" stroke-width="0.25">L-arginine</text>
<rect x="162.8" y="543.2" width="55.2" height="19.5" fill="#fff" stroke="#111" stroke-width="1.6"/>
<text transform="translate(190.4 556.65) scale(0.92 1)" text-anchor="middle" font-family='"Liberation Serif", serif' font-size="9.8" fill="#e3242b" stroke="#e3242b" stroke-width="0.25">L-proline</text>
<rect x="226.5" y="543.2" width="92" height="19.5" fill="#fff" stroke="#111" stroke-width="1.6"/>
<text transform="translate(272.5 556.65) scale(0.92 1)" text-anchor="middle" font-family='"Liberation Serif", serif' font-size="9.8" fill="#22a9df" stroke="#22a9df" stroke-width="0.25">Guanidoacetic acid</text>
<rect x="479" y="506.8" width="57.4" height="20.1" fill="#fff" stroke="#111" stroke-width="1.6"/>
<text transform="translate(507.7 520.55) scale(0.92 1)" text-anchor="middle" font-family='"Liberation Serif", serif' font-size="9.8" fill="#e3242b" stroke="#e3242b" stroke-width="0.25">Taurine</text>
<rect x="152" y="612" width="76" height="20" fill="#fff" stroke="#111" stroke-width="1.6"/>
<text transform="translate(190 625.7) scale(0.92 1)" text-anchor="middle" font-family='"Liberation Serif", serif' font-size="9.8" fill="#e3242b" stroke="#e3242b" stroke-width="0.25">Hydroxyproline</text>
<rect x="243.5" y="612.3" width="58.4" height="19.7" fill="#fff" stroke="#111" stroke-width="1.6"/>
<text transform="translate(272.7 625.85) scale(0.92 1)" text-anchor="middle" font-family='"Liberation Serif", serif' font-size="9.8" fill="#111" stroke="#111" stroke-width="0.25">Creatine</text>
<rect x="323.5" y="611.9" width="55.3" height="19.9" fill="#fff" stroke="#111" stroke-width="1.6"/>
<text transform="translate(351.15 625.55) scale(0.92 1)" text-anchor="middle" font-family='"Liberation Serif", serif' font-size="9.8" fill="#e3242b" stroke="#e3242b" stroke-width="0.25">Creatinine</text>
<rect x="473.6" y="562.9" width="66.8" height="19.6" fill="#fff" stroke="#111" stroke-width="1.6"/>
<text transform="translate(507 576.4) scale(0.92 1)" text-anchor="middle" font-family='"Liberation Serif", serif' font-size="9.8" fill="#e3242b" stroke="#e3242b" stroke-width="0.25">Hypotaurine</text>
<rect x="243.5" y="661.2" width="58.4" height="19.4" fill="#fff" stroke="#111" stroke-width="1.6"/>
<text transform="translate(272.7 674.6) scale(0.92 1)" text-anchor="middle" font-family='"Liberation Serif", serif' font-size="9.8" fill="#e3242b" stroke="#e3242b" stroke-width="0.25">Urea</text>
<polygon points="212.5,470.6 213.44,473.31 216.3,473.36 214.02,475.09 214.85,477.84 212.5,476.2 210.15,477.84 210.98,475.09 208.7,473.36 211.56,473.31" fill="#ff0000"/>
<rect x="435.6" y="446.9" width="17.8" height="74.1" fill="#fff" stroke="#111" stroke-width="1.6"/>
<text x="448" y="484.15" transform="rotate(-90 448 484.15)" text-anchor="middle" font-family='"Liberation Serif", serif' font-size="10" fill="#22a9df" stroke="#22a9df" stroke-width="0.25">Pyruvic acid</text>
<text x="543.6" y="456.4" font-family='"Liberation Serif", serif' font-size="9.1" fill="#111" stroke="#111" stroke-width="0.25">Sulfoacetaldehyde</text>
<rect x="607.4" y="294.9" width="26.4" height="13.2" fill="#fff" stroke="#111" stroke-width="1.6"/>
<text transform="translate(643.8 300.1) scale(0.87 1)" font-family='"Liberation Serif", serif' font-size="7.8" font-weight="bold" fill="#111" stroke="#111" stroke-width="0.25">Detected</text>
<text transform="translate(643.6 309.3) scale(0.87 1)" font-family='"Liberation Serif", serif' font-size="7.8" font-weight="bold" fill="#111" stroke="#111" stroke-width="0.25"><tspan font-style="italic">p</tspan>&gt;0.05</text>
<rect x="607.4" y="318.6" width="26.4" height="12.7" fill="#fff" stroke="#111" stroke-width="1.6"/>
<text class="nb" transform="translate(620.6 327.55) scale(0.85 1)" text-anchor="middle" font-family='"Liberation Serif", serif' font-size="8.5" fill="#e8404a">red</text>
<text transform="translate(643.8 323.8) scale(0.87 1)" font-family='"Liberation Serif", serif' font-size="7.8" font-weight="bold" fill="#111" stroke="#111" stroke-width="0.25">Increased</text>
<text transform="translate(643.6 333) scale(0.87 1)" font-family='"Liberation Serif", serif' font-size="7.8" font-weight="bold" fill="#111" stroke="#111" stroke-width="0.25"><tspan font-style="italic">p</tspan>&lt;0.05</text>
<rect x="607.4" y="340.8" width="26.4" height="13.4" fill="#fff" stroke="#111" stroke-width="1.6"/>
<text class="nb" transform="translate(620.6 350.1) scale(0.85 1)" text-anchor="middle" font-family='"Liberation Serif", serif' font-size="8.5" fill="#4cbcee">blue</text>
<text transform="translate(643.8 346) scale(0.87 1)" font-family='"Liberation Serif", serif' font-size="7.8" font-weight="bold" fill="#111" stroke="#111" stroke-width="0.25">Decreased</text>
<text transform="translate(643.6 355.2) scale(0.87 1)" font-family='"Liberation Serif", serif' font-size="7.8" font-weight="bold" fill="#111" stroke="#111" stroke-width="0.25"><tspan font-style="italic">p</tspan>&lt;0.05</text>
</svg>
</body></html>
